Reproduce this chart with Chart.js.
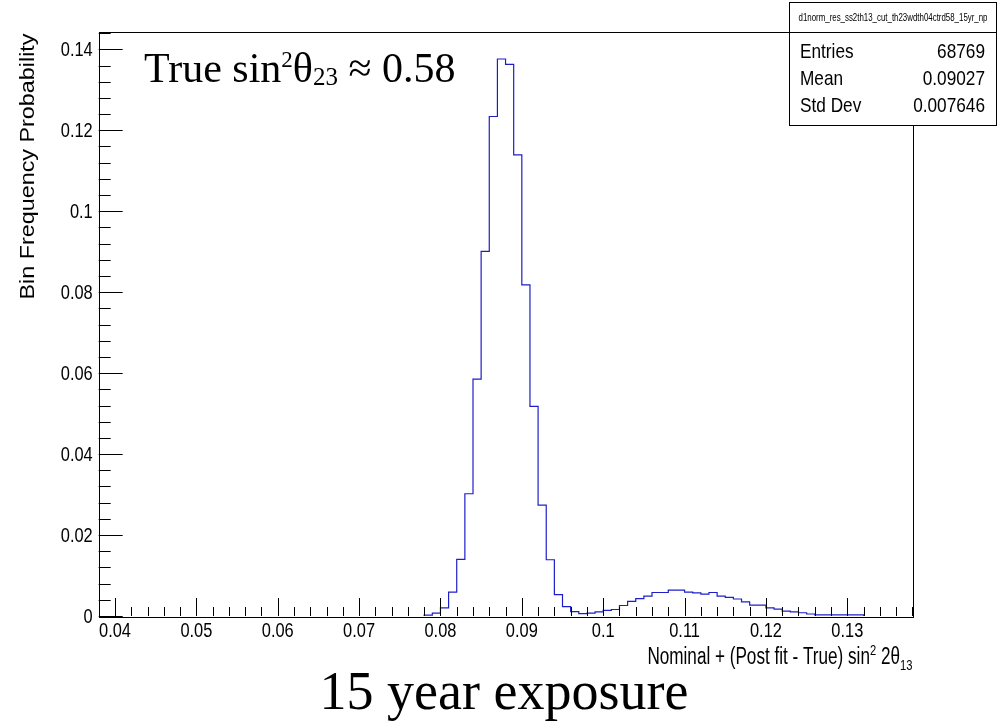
<!DOCTYPE html>
<html>
<head>
<meta charset="utf-8">
<script src="https://cdn.jsdelivr.net/npm/chart.js@4.4.1/dist/chart.umd.min.js"></script>
<style>
    html, body { margin: 0; padding: 0; background: #fff; }
</style>
</head>
<body>
<canvas id="hist" width="999" height="721"></canvas>
<script>
// Histogram contents (bin low edges, bin width 0.001) and normalised bin heights
const binLowEdges = [
    0.078, 0.079, 0.080, 0.081, 0.082, 0.083, 0.084, 0.085, 0.086, 0.087,
    0.088, 0.089, 0.090, 0.091, 0.092, 0.093, 0.094, 0.095, 0.096, 0.097,
    0.098, 0.099, 0.100, 0.101, 0.102, 0.103, 0.104, 0.105, 0.106, 0.107,
    0.108, 0.109, 0.110, 0.111, 0.112, 0.113, 0.114, 0.115, 0.116, 0.117,
    0.118, 0.119, 0.120, 0.121, 0.122, 0.123, 0.124, 0.125, 0.126, 0.127,
    0.128, 0.129, 0.130, 0.131
];
const binValues = [
    0.0002, 0.0007, 0.0020, 0.0059, 0.0140, 0.0302, 0.0585, 0.0901, 0.1234, 0.1376,
    0.1363, 0.1139, 0.0818, 0.0518, 0.0274, 0.0139, 0.0053, 0.0023, 0.0011, 0.0006,
    0.0007, 0.0010, 0.0014, 0.0016, 0.0026, 0.0036, 0.0043, 0.0049, 0.0058, 0.0058,
    0.0064, 0.0064, 0.0059, 0.0057, 0.0054, 0.0058, 0.0049, 0.0046, 0.0042, 0.0035,
    0.0027, 0.0027, 0.0020, 0.0017, 0.0012, 0.0010, 0.0008, 0.0005, 0.0003, 0.0003,
    0.0003, 0.0003, 0.0003, 0.0003
];
const binWidth = 0.001;

const xTickValues = [0.04, 0.05, 0.06, 0.07, 0.08, 0.09, 0.10, 0.11, 0.12, 0.13];
const yTickValues = [0, 0.02, 0.04, 0.06, 0.08, 0.10, 0.12, 0.14];

const histName = 'd1norm_res_ss2th13_cut_th23wdth04ctrd58_15yr_np';
const statNames = ['Entries', 'Mean', 'Std Dev'];
const statValues = ['68769', '0.09027', '0.007646'];

const SANS = '"Liberation Sans", Arial, sans-serif';
const SERIF = '"Liberation Serif", "Times New Roman", serif';
const NARROW = 0.82; // horizontal squeeze to get a Helvetica Narrow look

// ROOT style labels: 0.1 instead of 0.10
function fmtTick(v) {
    return String(Number(v.toFixed(4)));
}

// Build the step outline of the histogram from the bins
function histOutline() {
    const pts = [{ x: binLowEdges[0], y: 0 }];
    binLowEdges.forEach((lo, i) => pts.push({ x: lo, y: binValues[i] }));
    pts.push({ x: binLowEdges[binLowEdges.length - 1] + binWidth, y: 0 });
    return pts;
}

// Draw text made of pieces (for super/subscripts), squeezed by sx,
// or squeezed to fit a given width when fitW is set
function drawRich(ctx, parts, x, y, align, sx, fitW) {
    let total = 0;
    parts.forEach(p => {
        ctx.font = p.font;
        p.w = ctx.measureText(p.t).width;
        total += p.w;
    });
    if (fitW) sx = fitW / total;
    const w = total * sx;
    const x0 = align === 'right' ? x - w : (align === 'center' ? x - w / 2 : x);
    ctx.save();
    ctx.translate(x0, y);
    ctx.scale(sx, 1);
    ctx.textAlign = 'left';
    ctx.textBaseline = 'alphabetic';
    let cx = 0;
    parts.forEach(p => {
        ctx.font = p.font;
        ctx.fillText(p.t, cx, p.dy || 0);
        cx += p.w;
    });
    ctx.restore();
}

// Single squeezed string
function drawNarrow(ctx, text, x, y, font, align, baseline, sx) {
    ctx.save();
    ctx.translate(x, y);
    ctx.scale(sx, 1);
    ctx.font = font;
    ctx.textAlign = align;
    ctx.textBaseline = baseline;
    ctx.fillText(text, 0, 0);
    ctx.restore();
}

// Frame, inward ticks, labels, titles and stats box
const rootDecor = {
    id: 'rootDecor',
    afterDraw(chart) {
        const ctx = chart.ctx;
        const a = chart.chartArea;
        const xs = chart.scales.x;
        const ys = chart.scales.y;
        ctx.save();
        ctx.strokeStyle = '#000';
        ctx.lineWidth = 1;

        // frame
        ctx.strokeRect(Math.round(a.left) + 0.5, Math.round(a.top) + 0.5,
            Math.round(a.right - a.left), Math.round(a.bottom - a.top));

        // x ticks: major every 0.01, 5 divisions
        const xStep = xTickValues[1] - xTickValues[0];
        ctx.beginPath();
        for (let m = xTickValues[0] - xStep; m <= xs.max + 1e-9; m += xStep) {
            for (let j = 0; j < 5; j++) {
                const v = m + j * xStep / 5;
                if (v < xs.min - 1e-9 || v > xs.max + 1e-9) continue;
                const px = Math.round(xs.getPixelForValue(v)) + 0.5;
                const len = j === 0 ? 18 : 9;
                ctx.moveTo(px, a.bottom);
                ctx.lineTo(px, a.bottom - len);
            }
        }
        // y ticks: major every 0.02, 5 divisions
        const yStep = yTickValues[1] - yTickValues[0];
        for (let m = yTickValues[0]; m <= ys.max + 1e-9; m += yStep) {
            for (let j = 0; j < 5; j++) {
                const v = m + j * yStep / 5;
                if (v > ys.max + 1e-9) continue;
                const py = Math.round(ys.getPixelForValue(v)) + 0.5;
                const len = j === 0 ? 24 : 12;
                ctx.moveTo(a.left, py);
                ctx.lineTo(a.left + len, py);
            }
        }
        ctx.stroke();

        ctx.fillStyle = '#000';

        // tick labels
        xTickValues.forEach(v => {
            drawNarrow(ctx, fmtTick(v), xs.getPixelForValue(v), a.bottom + 15,
                '20px ' + SANS, 'center', 'middle', NARROW);
        });
        yTickValues.forEach(v => {
            drawNarrow(ctx, fmtTick(v), a.left - 6, ys.getPixelForValue(v) + 1,
                '20px ' + SANS, 'right', 'middle', NARROW);
        });

        // y axis title
        ctx.save();
        ctx.translate(34, a.top + 2);
        ctx.rotate(-Math.PI / 2);
        drawRich(ctx, [{ t: 'Bin Frequency Probability', font: '20px ' + SANS }],
            0, 0, 'right', 1, 266);
        ctx.restore();

        // x axis title
        drawRich(ctx, [
            { t: 'Nominal + (Post fit - True) sin', font: '23px ' + SANS },
            { t: '2', font: '15px ' + SANS, dy: -9 },
            { t: ' 2\u03b8', font: '23px ' + SANS },
            { t: '13', font: '15px ' + SANS, dy: 6 }
        ], a.right, 664, 'right', 1, 265);

        // label inside the frame
        drawRich(ctx, [
            { t: 'True sin', font: '42px ' + SERIF },
            { t: '2', font: '23px ' + SERIF, dy: -15 },
            { t: '\u03b8', font: '42px ' + SERIF },
            { t: '23', font: '25px ' + SERIF, dy: 3 },
            { t: ' \u2248 0.58', font: '42px ' + SERIF }
        ], 144, 82, 'left', 1);

        // bottom caption
        ctx.font = '54px ' + SERIF;
        ctx.textAlign = 'center';
        ctx.textBaseline = 'alphabetic';
        ctx.fillText('15 year exposure', 504, 709);

        // stats box
        const bx = 789.5, by = 2.5, bw = 207, bh = 123, sep = 32.5;
        ctx.fillStyle = '#fff';
        ctx.fillRect(bx, by, bw, bh);
        ctx.strokeRect(bx, by, bw, bh);
        ctx.beginPath();
        ctx.moveTo(bx, sep);
        ctx.lineTo(bx + bw, sep);
        ctx.stroke();
        ctx.fillStyle = '#000';
        drawRich(ctx, [{ t: histName, font: '10px ' + SANS }], bx + bw / 2, 21, 'center', 1, 189);
        statNames.forEach((name, i) => {
            const ry = 52 + i * 27;
            drawNarrow(ctx, name, 800, ry, '21px ' + SANS, 'left', 'middle', NARROW);
            drawNarrow(ctx, statValues[i], 985, ry, '21px ' + SANS, 'right', 'middle', NARROW);
        });
        ctx.restore();
    }
};

new Chart(document.getElementById('hist'), {
    type: 'line',
    data: {
        datasets: [{
            data: histOutline(),
            stepped: 'before',
            borderColor: 'rgb(30, 30, 200)',
            borderWidth: 1.2,
            pointRadius: 0,
            fill: false,
            tension: 0
        }]
    },
    options: {
        responsive: false,
        animation: false,
        layout: { padding: { left: 0, right: 86.6, top: 31.5, bottom: 0 } },
        plugins: {
            legend: { display: false },
            tooltip: { enabled: false }
        },
        scales: {
            x: {
                type: 'linear',
                min: 0.038,
                max: 0.138,
                afterBuildTicks: s => { s.ticks = xTickValues.map(v => ({ value: v })); },
                afterFit: s => { s.height = 105; },
                grid: { display: false, drawTicks: false },
                border: { display: false },
                ticks: { display: false }
            },
            y: {
                type: 'linear',
                min: 0,
                max: 0.1444,
                afterBuildTicks: s => { s.ticks = yTickValues.map(v => ({ value: v })); },
                afterFit: s => { s.width = 98.7; },
                grid: { display: false, drawTicks: false },
                border: { display: false },
                ticks: { display: false }
            }
        }
    },
    plugins: [rootDecor]
});
</script>
</body>
</html>
